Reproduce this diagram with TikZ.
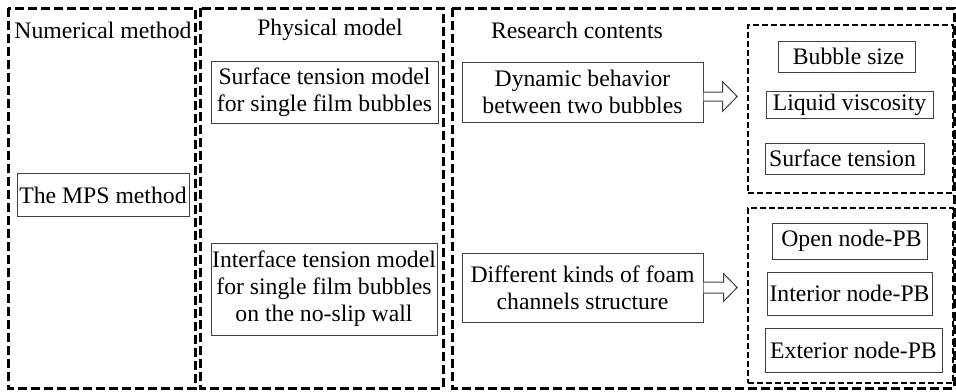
\documentclass[tikz,border=0pt]{standalone}
\usepackage{fontspec}
\setmainfont{Liberation Serif}
\newfontfamily\tnr{Liberation Serif}
\usetikzlibrary{calc}
\begin{document}
\begin{tikzpicture}[x=1pt,y=-1pt,
  outerbox/.style={draw=black,line width=3pt,dash pattern=on 9pt off 4pt},
  groupbox/.style={draw=black,line width=1.7pt,dash pattern=on 6pt off 3pt},
  itembox/.style={draw=black!75,line width=1pt,inner sep=0pt,align=center,
    font=\tnr\fontsize{23.7}{27}\selectfont},
  title/.style={inner sep=0pt,font=\tnr\fontsize{23.7}{27}\selectfont},
  hollow/.style={draw=black!75,line width=1pt,fill=white,line join=miter}
]
\useasboundingbox (0,0) rectangle (956,391);
% columns
\draw[outerbox] (8,8) rectangle (195,388);
\draw[outerbox] (200,8) rectangle (443,388);
\draw[outerbox] (452,8) rectangle (954,388);
% titles
\node[title] (t1) at (103,30) {Numerical method};
\node[title] (t2) at (330,30) {Physical model};
\node[title] (t3) at (577,30) {Research contents};
% column 1
\node[itembox,minimum width=172,minimum height=43] (mps) at (103,195) {The MPS method};
% column 2
\node[itembox,minimum width=227,minimum height=62] (stm) at (324.5,92) {Surface tension model\\for single film bubbles};
\node[itembox,minimum width=226,minimum height=92] (itm) at (324,289) {Interface tension model\\for single film bubbles\\on the no-slip wall};
% column 3
\node[itembox,minimum width=241,minimum height=60] (dyn) at (582.5,92) {Dynamic behavior\\between two bubbles};
\node[itembox,minimum width=241,minimum height=69] (dif) at (582.5,287.5) {Different kinds of foam\\channels structure};
% group boxes
\node[groupbox,minimum width=205,minimum height=168,inner sep=0pt] (g1) at (850.5,109) {};
\node[groupbox,minimum width=205,minimum height=175,inner sep=0pt] (g2) at (850.5,295.5) {};
% items
\node[itembox,minimum width=137,minimum height=31] (bs) at (846.5,56.5) {\,Bubble size};
\node[itembox,minimum width=167,minimum height=27] (lv) at (849.5,104.5) {Liquid viscosity};
\node[itembox,minimum width=159,minimum height=31] (st) at (844.5,158.5) {Surface tension\,};
\node[itembox,minimum width=155,minimum height=36] (op) at (849.5,241) {\,Open node-PB};
\node[itembox,minimum width=165,minimum height=43] (in) at (849.5,293.5) {Interior node-PB};
\node[itembox,minimum width=177,minimum height=44] (ex) at (853.5,350) {Exterior node-PB};
% hollow arrows
\coordinate (a1) at ($(dyn.east)+(0,4.5)$);
\coordinate (a1tip) at ($(g1.west |- a1)+(-10,0)$);
\draw[hollow] ($(a1)+(0,-4.5)$) -- ($(a1)+(19,-4.5)$) -- ($(a1)+(19,-15)$) -- (a1tip)
  -- ($(a1)+(19,15)$) -- ($(a1)+(19,4.5)$) -- ($(a1)+(0,4.5)$);
\coordinate (a2) at ($(dif.east)+(0,0)$);
\coordinate (a2tip) at ($(g2.west |- a2)+(-10,0)$);
\draw[hollow] ($(a2)+(0,-5.5)$) -- ($(a2)+(20,-5.5)$) -- ($(a2)+(20,-14)$) -- (a2tip)
  -- ($(a2)+(20,14)$) -- ($(a2)+(20,5.5)$) -- ($(a2)+(0,5.5)$);
\end{tikzpicture}
\end{document}
